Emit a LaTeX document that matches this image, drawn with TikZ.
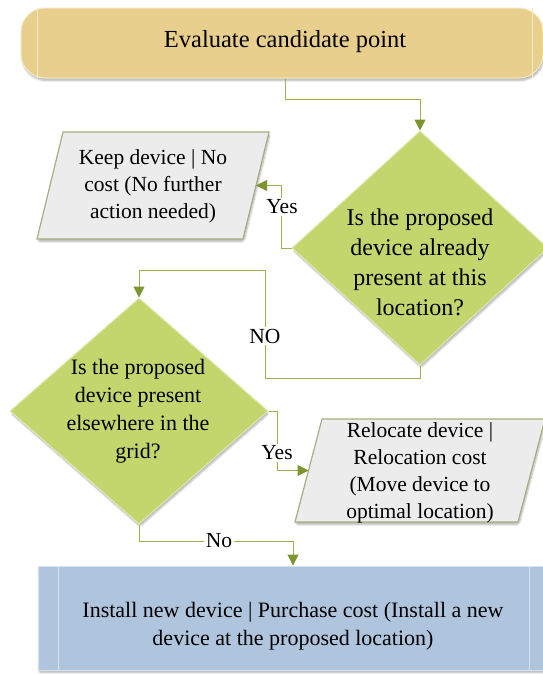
\documentclass[tikz,border=0pt]{standalone}
\usepackage{fontspec}
\setmainfont{Liberation Serif}
\newfontfamily\tnr{Liberation Serif}
\usetikzlibrary{shapes.geometric,arrows.meta,shadows.blur}

\definecolor{termfill}{HTML}{E9CF8D}
\definecolor{termedge}{HTML}{F6E9C6}
\definecolor{decfill}{HTML}{C3D66D}
\definecolor{decedge}{HTML}{DCE8AC}
\definecolor{iofill}{HTML}{ECECEC}
\definecolor{ioedge}{HTML}{A8AE82}
\definecolor{procfill}{HTML}{AFC5DD}
\definecolor{procedge}{HTML}{D6E2EF}
\definecolor{linec}{HTML}{9DB04E}
\definecolor{tipc}{HTML}{7D952F}

\newcommand\txtsize[2]{\tnr\fontsize{#1}{#2}\selectfont}

\tikzset{
  softshadow/.style={blur shadow={shadow blur steps=6, shadow xshift=1pt, shadow yshift=-2.5pt, shadow opacity=30, shadow blur extra rounding=2pt}},
  terminal/.style={rectangle, rounded corners=24pt, fill=termfill, draw=termedge, line width=1pt, softshadow},
  decision/.style={diamond, fill=decfill, draw=decedge, line width=1pt, inner sep=0pt, softshadow},
  iobox/.style={fill=iofill, draw=ioedge, line width=1.2pt, softshadow},
  procbox/.style={rectangle, fill=procfill, draw=procedge, line width=1pt, softshadow},
  txt/.style={align=center, inner sep=0pt},
  conn/.style={draw=linec, line width=1pt, -{Triangle[width=11pt,length=11pt,fill=tipc,color=tipc]}},
  lbl/.style={fill=white, inner sep=1.5pt, font=\txtsize{21.5}{24}}
}

\begin{document}
\begin{tikzpicture}[x=1pt,y=-1pt]
\useasboundingbox (0,0) rectangle (542,675);

% start terminal
\node[terminal, minimum width=522pt, minimum height=70pt] (top) at (282,43) {};
\draw[termedge, line width=1pt] (37,8) -- (37,78) (532,8) -- (532,78);
\node[txt, font=\txtsize{24.5}{30}] (toptxt) at (285,42) {Evaluate candidate point};

% first decision
\node[decision, minimum width=256pt, minimum height=234pt] (d1) at (420,248) {};
\node[txt, font=\txtsize{24}{30}] (d1t) at (420,262) {Is the proposed\\device already\\present at this\\location?};

% keep device (parallelogram)
\path[iobox] (37,239) -- (243,239) -- (269,132) -- (63,132) -- cycle;
\coordinate (keepin) at (256,185.5);
\node[txt, font=\txtsize{21.5}{27}] (keep) at (153,186) {Keep device | No\\cost (No further\\action needed)};

% second decision
\node[decision, minimum width=258pt, minimum height=226pt] (d2) at (139,411) {};
\node[txt, font=\txtsize{22}{28}] (d2t) at (138,411) {Is the proposed\\device present\\elsewhere in the\\grid?};

% relocate device (parallelogram)
\path[iobox] (295,522) -- (518,522) -- (545,419) -- (322,419) -- cycle;
\coordinate (relocin) at (308.5,470.5);
\node[txt, font=\txtsize{21.5}{27}] (reloc) at (420,473) {Relocate device |\\Relocation cost\\(Move device to\\optimal location)};

% install new device
\node[procbox, minimum width=510pt, minimum height=104pt] (install) at (293,618) {};
\draw[procedge, line width=1pt] (58,566) -- (58,670) (529,566) -- (529,670);
\node[txt, font=\txtsize{22}{28}] (installt) at (293,626) {Install new device | Purchase cost (Install a new\\device at the proposed location)};

% connectors
\draw[conn] ([xshift=3pt]top.south) -- ++(0,21) -| (d1.north);
\draw[conn] (d1.west) -- ++(-10,0) |- (keepin);
\draw[conn] (d1.south) -- ++(0,13) -| ++(-155,-108) -| (d2.north);
\draw[conn] (d2.east) -- ++(9,0) |- (relocin);
\draw[conn] (d2.south) -- ++(0,17) -| (install.north);

% branch labels
\node[lbl] (yes1) at (282,207) {Yes};
\node[lbl] (no1) at (265,336) {NO};
\node[lbl] (yes2) at (277,453) {Yes};
\node[lbl] (no2) at (219,541) {No};
\end{tikzpicture}
\end{document}
